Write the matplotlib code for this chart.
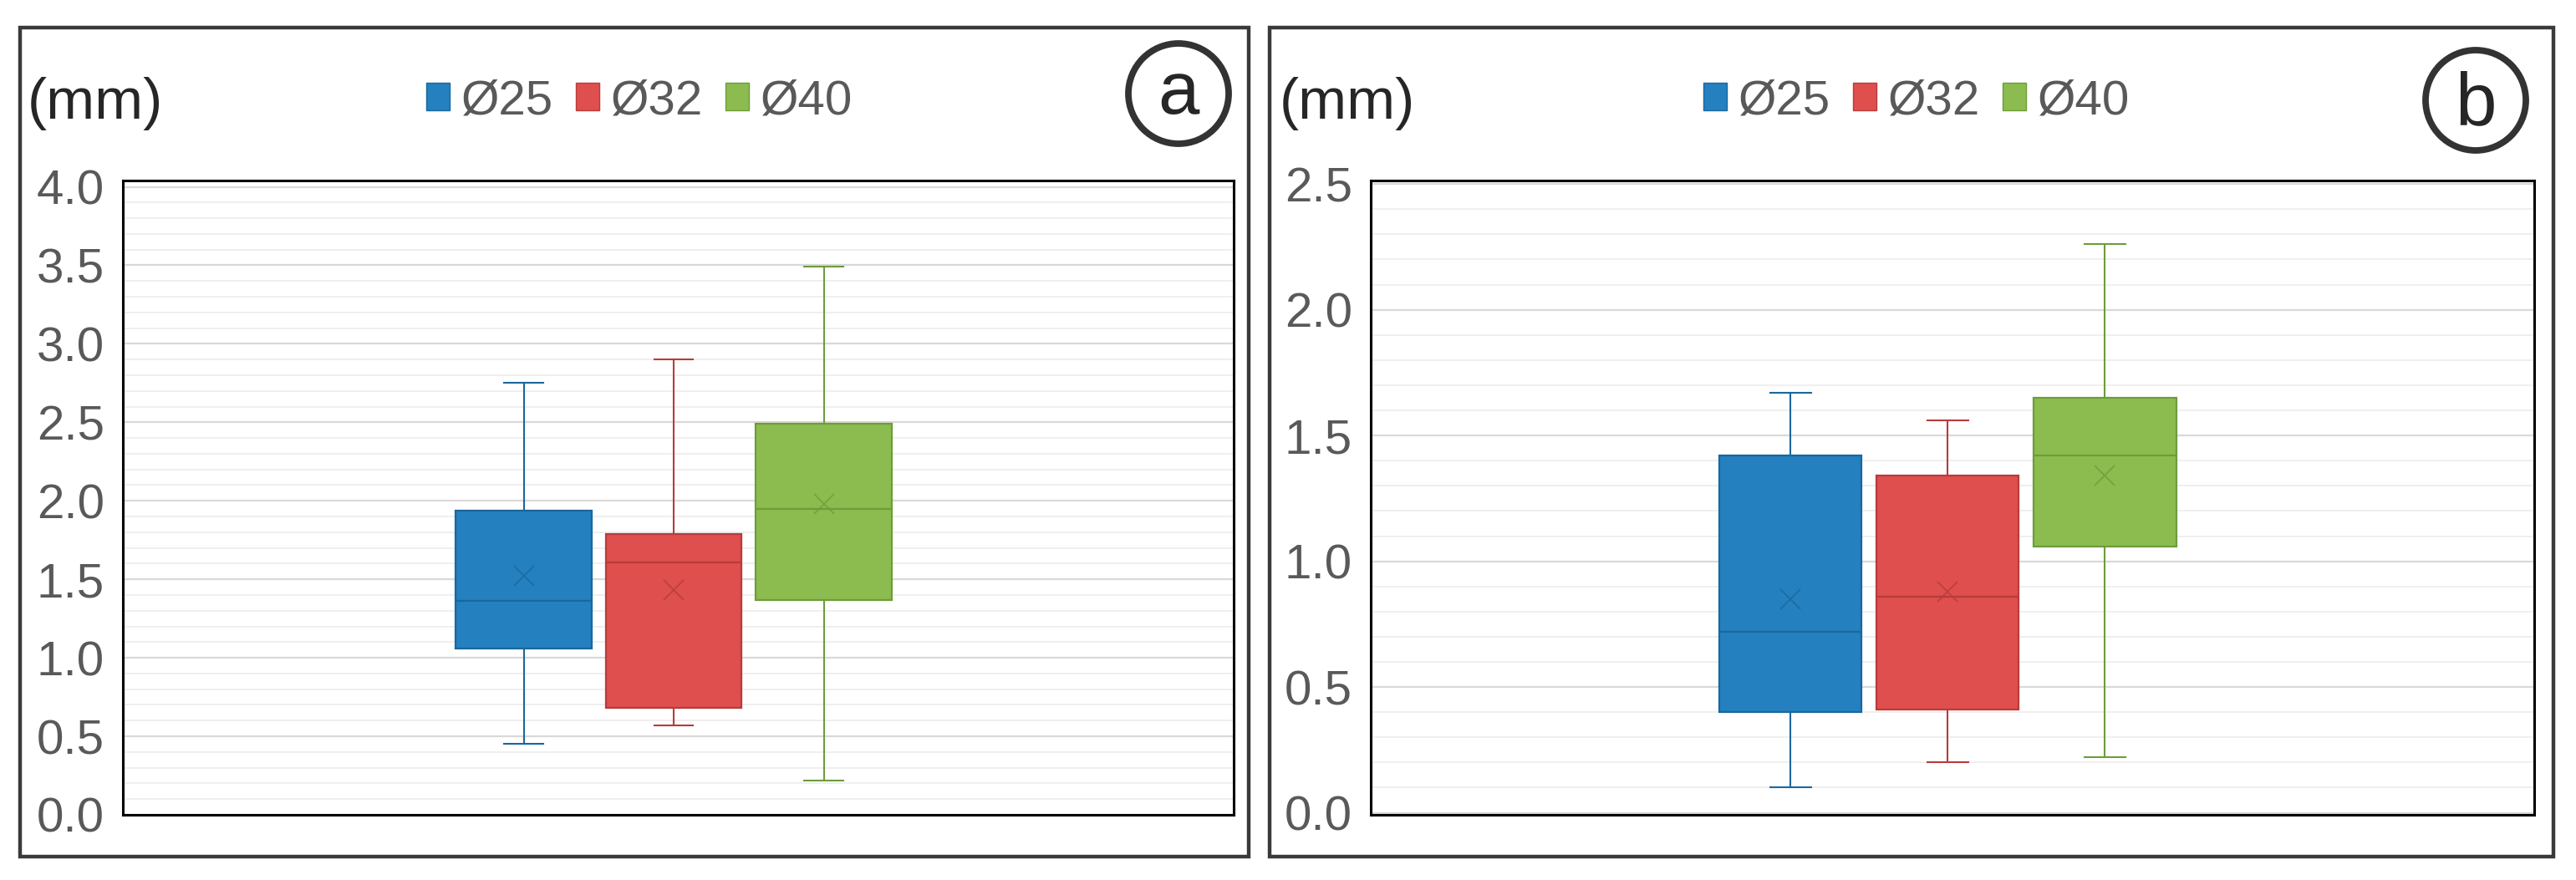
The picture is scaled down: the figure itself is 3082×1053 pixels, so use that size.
import numpy as np
import matplotlib
matplotlib.use("Agg")
import matplotlib.pyplot as plt
from matplotlib.patches import Patch, Ellipse, Rectangle
from matplotlib.ticker import MultipleLocator

plt.rcParams["font.family"] = ["Liberation Sans", "DejaVu Sans"]

# ---------------------------------------------------------------------------
# Data
# ---------------------------------------------------------------------------
SERIES = ["Ø25", "Ø32", "Ø40"]

# panel a
A_WHISLO = [0.45, 0.57, 0.22]
A_Q1     = [1.06, 0.68, 1.37]
A_MED    = [1.36, 1.61, 1.95]
A_Q3     = [1.94, 1.79, 2.49]
A_WHISHI = [2.75, 2.90, 3.49]
A_MEAN   = [1.52, 1.43, 1.98]

# panel b
B_WHISLO = [0.10, 0.20, 0.22]
B_Q1     = [0.40, 0.41, 1.06]
B_MED    = [0.72, 0.86, 1.42]
B_Q3     = [1.42, 1.34, 1.65]
B_WHISHI = [1.67, 1.56, 2.26]
B_MEAN   = [0.85, 0.88, 1.34]

FILLS = ["#2480BF", "#DE4F4E", "#8CBC50"]
EDGES = ["#1B679D", "#B83B3B", "#6E9C3A"]

W, H = 3082, 1053
TXT = "#595959"
DARK = "#333333"

fig = plt.figure(figsize=(W / 100, H / 100), dpi=100, facecolor="white")


def px_rect(x0, y0, x1, y1):
    return [x0 / W, 1 - y1 / H, (x1 - x0) / W, (y1 - y0) / H]


def draw_panel(rect, lo, q1, med, q3, hi, mean, ylim, ymax_tick, frame,
               mm_x, legend_x, letter, circ, letter_base):
    ax = fig.add_axes(px_rect(*rect))
    stats = [
        dict(whislo=lo[i], q1=q1[i], med=med[i], q3=q3[i], whishi=hi[i],
             mean=mean[i], fliers=[])
        for i in range(len(SERIES))
    ]
    for i, st in enumerate(stats):
        ax.bxp(
            [st], positions=[i + 1], widths=0.905, capwidths=0.26,
            showmeans=True, patch_artist=True, manage_ticks=False,
            boxprops=dict(facecolor=FILLS[i], edgecolor=EDGES[i], linewidth=1.6),
            medianprops=dict(color=EDGES[i], linewidth=1.6),
            whiskerprops=dict(color=EDGES[i], linewidth=1.5),
            capprops=dict(color=EDGES[i], linewidth=1.5),
            meanprops=dict(marker="x", markersize=17, markeredgewidth=1.3,
                           markeredgecolor=EDGES[i], alpha=0.8),
            zorder=3,
        )
    ax.set_xlim(-1.67, 5.73)
    ax.set_ylim(*ylim)
    ax.set_xticks([])
    ticks = np.arange(0, ymax_tick + 0.01, 0.5)
    ax.yaxis.set_minor_locator(MultipleLocator(0.1))
    ax.set_yticks(ticks)
    ax.set_yticklabels([f"{v:.1f}" for v in ticks])
    ax.tick_params(axis="y", which="both", length=0, pad=16, labelsize=42,
                   labelcolor=TXT)
    ax.grid(axis="y", which="major", color="#D9D9D9", linewidth=1.6, zorder=0)
    ax.grid(axis="y", which="minor", color="#EFEFEF", linewidth=1.4, zorder=0)
    ax.set_axisbelow(True)
    for sp in ax.spines.values():
        sp.set_color("black")
        sp.set_linewidth(2.2)

    # outer frame
    x0, y0, x1, y1 = frame
    fig.add_artist(Rectangle((x0 / W, 1 - y1 / H), (x1 - x0) / W, (y1 - y0) / H,
                             transform=fig.transFigure, fill=False,
                             edgecolor="#3A3A3A", linewidth=3.2))

    # "(mm)"
    fig.text(mm_x / W, 1 - 124 / H, "(mm)", fontsize=50, color="#262626",
             ha="left", va="center")

    # legend
    handles = [Patch(facecolor=FILLS[i], edgecolor=EDGES[i], linewidth=1.0,
                     label=SERIES[i]) for i in range(len(SERIES))]
    fig.legend(handles=handles, loc="center", bbox_to_anchor=(legend_x / W, 1 - 121 / H),
               ncol=3, frameon=False, fontsize=42, labelcolor=TXT,
               handlelength=0.48, handleheight=0.5, handletextpad=0.25,
               columnspacing=0.45, borderpad=0, borderaxespad=0)

    # circled panel letter
    cx, cy = circ
    fig.add_artist(Ellipse((cx / W, 1 - cy / H), 120 / W, 120 / H,
                           transform=fig.transFigure, fill=False,
                           edgecolor=DARK, linewidth=5.6))
    fig.text(cx / W, 1 - letter_base / H, letter, fontsize=64, color="#262626",
             ha="center", va="baseline")
    return ax


draw_panel((147, 216, 1476, 975), A_WHISLO, A_Q1, A_MED, A_Q3, A_WHISHI, A_MEAN,
           (0, 4.04), 4.0, (24, 33, 1494, 1025), 33, 765, "a", (1410, 112), 136)
draw_panel((1640, 216, 3032, 975), B_WHISLO, B_Q1, B_MED, B_Q3, B_WHISHI, B_MEAN,
           (-0.008, 2.514), 2.5, (1519, 33, 3055, 1025), 1531, 2293, "b", (2962, 120), 149)

fig.savefig("out.png", dpi=100, facecolor="white")
plt.close(fig)
